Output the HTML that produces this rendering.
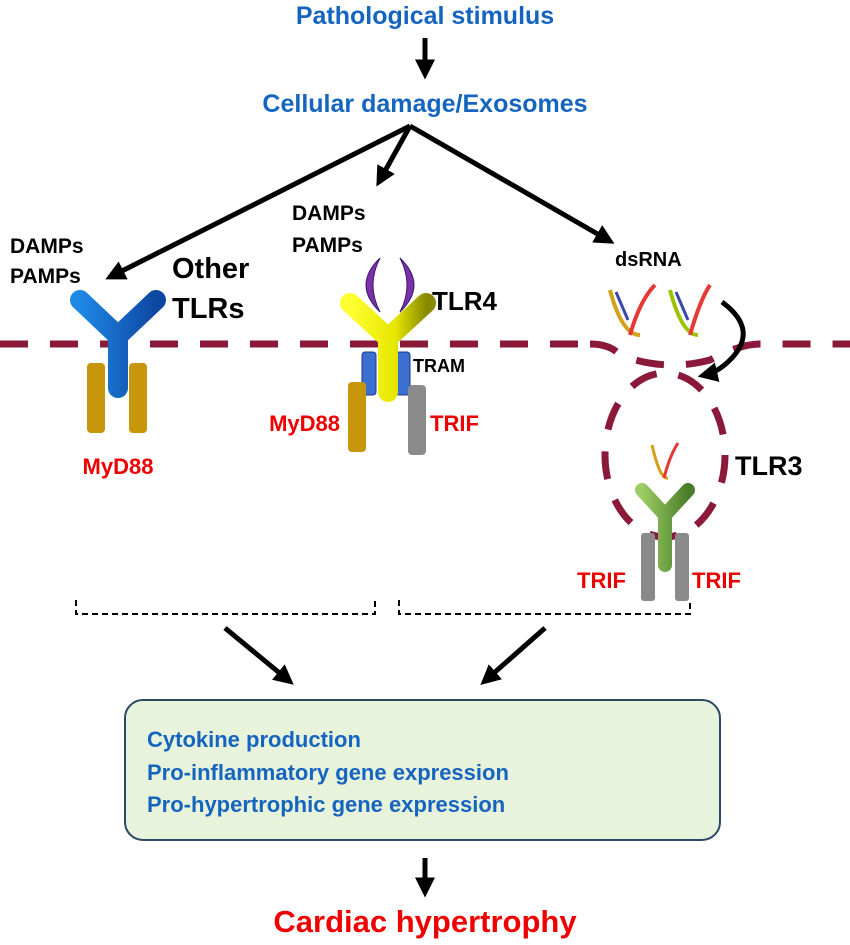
<!DOCTYPE html>
<html><head><meta charset="utf-8"><style>
body{margin:0;background:#fff}
svg text{font-family:"Liberation Sans",Arial,sans-serif;font-weight:bold}
</style></head><body>
<svg width="850" height="940" viewBox="0 0 850 940" xmlns="http://www.w3.org/2000/svg">
<defs>
<marker id="ah" markerWidth="4" markerHeight="4" refX="2.5" refY="2" orient="auto" markerUnits="strokeWidth">
<path d="M0,0 L4,2 L0,4 z" fill="#000"/></marker>
<linearGradient id="bl" x1="0" x2="1"><stop offset="0" stop-color="#1e88e5"/><stop offset="1" stop-color="#0d47a1"/></linearGradient>
<linearGradient id="ye" x1="0" x2="1"><stop offset="0" stop-color="#ffff33"/><stop offset="0.6" stop-color="#e6e600"/><stop offset="1" stop-color="#8a8a00"/></linearGradient>
<linearGradient id="gr" x1="0" x2="1"><stop offset="0" stop-color="#9ccc65"/><stop offset="1" stop-color="#4a7d2a"/></linearGradient>
</defs>
<text x="425" y="24" font-size="25" fill="#1565c0" text-anchor="middle">Pathological stimulus</text>
<line x1="425" y1="38" x2="425" y2="72" stroke="#000" stroke-width="5" marker-end="url(#ah)"/>
<text x="425" y="112" font-size="25" fill="#1565c0" text-anchor="middle">Cellular damage/Exosomes</text>
<g stroke="#000" stroke-width="5" fill="none">
<line x1="410" y1="126" x2="112" y2="276" marker-end="url(#ah)"/>
<line x1="410" y1="126" x2="380" y2="180" marker-end="url(#ah)"/>
<line x1="410" y1="126" x2="608" y2="240" marker-end="url(#ah)"/>
</g>
<!-- membrane -->
<g stroke="#8b1a3a" stroke-width="7" fill="none" stroke-dasharray="28,22">
<line x1="0" y1="344" x2="590" y2="344"/>
<path d="M590,344 Q610,344 620,355 Q665,372 710,360 Q740,344 760,344 L850,344"/>
<ellipse cx="665" cy="455" rx="60" ry="82"/>
</g>
<!-- left receptor -->
<rect x="87" y="363" width="18" height="70" rx="4" fill="#c8960a"/>
<rect x="129" y="363" width="18" height="70" rx="4" fill="#c8960a"/>
<path d="M80,300 L118,336 L156,300 M118,336 L118,388" stroke="url(#bl)" stroke-width="20" fill="none" stroke-linecap="round" stroke-linejoin="round"/>
<text x="10" y="253" font-size="21" fill="#000">DAMPs</text>
<text x="10" y="283" font-size="21" fill="#000">PAMPs</text>
<text x="172" y="278" font-size="29" fill="#000">Other</text>
<text x="172" y="318" font-size="29" fill="#000">TLRs</text>
<text x="118" y="474" font-size="22" fill="#ee0000" text-anchor="middle">MyD88</text>
<!-- TLR4 -->
<text x="292" y="220" font-size="21" fill="#000">DAMPs</text>
<text x="292" y="252" font-size="21" fill="#000">PAMPs</text>
<path d="M380,258 Q352,285 380,312 Q366,285 380,258z" fill="#7b2fa8" stroke="#3a1a70"/>
<path d="M400,258 Q428,285 400,312 Q414,285 400,258z" fill="#7b2fa8" stroke="#3a1a70"/>
<rect x="362" y="352" width="14" height="43" rx="3" fill="#3d6fd1" stroke="#1a3a8a"/>
<rect x="396" y="352" width="14" height="43" rx="3" fill="#3d6fd1" stroke="#1a3a8a"/>
<path d="M350,303 L388,338 L426,303 M388,338 L388,392" stroke="url(#ye)" stroke-width="20" fill="none" stroke-linecap="round" stroke-linejoin="round"/>
<rect x="348" y="382" width="18" height="70" rx="4" fill="#c8960a"/>
<rect x="408" y="385" width="18" height="70" rx="4" fill="#8a8a8a"/>
<text x="432" y="310" font-size="26" fill="#000">TLR4</text>
<text x="413" y="372" font-size="18" fill="#000">TRAM</text>
<text x="340" y="431" font-size="22" fill="#ee0000" text-anchor="end">MyD88</text>
<text x="430" y="431" font-size="22" fill="#ee0000">TRIF</text>
<!-- TLR3 -->
<text x="615" y="266" font-size="20" fill="#000">dsRNA</text>
<g stroke-width="4" fill="none">
<path d="M610,290 Q622,335 640,335" stroke="#d4a017"/>
<path d="M630,335 Q640,300 655,285" stroke="#e53935"/>
<path d="M616,292 L628,320" stroke="#3949ab" stroke-width="3"/>
<path d="M670,290 Q682,335 698,335" stroke="#9bc400"/>
<path d="M690,335 Q700,300 710,285" stroke="#e53935"/>
<path d="M676,292 L688,320" stroke="#3949ab" stroke-width="3"/>
<path d="M652,445 Q660,480 668,478" stroke="#d4a017" stroke-width="3"/>
<path d="M664,478 Q670,455 678,443" stroke="#e53935" stroke-width="3"/>
</g>
<path d="M722,302 Q760,330 730,360 Q718,372 705,375" stroke="#000" stroke-width="5" fill="none" marker-end="url(#ah)"/>
<rect x="641" y="533" width="14" height="68" rx="3" fill="#8a8a8a"/>
<rect x="675" y="533" width="14" height="68" rx="3" fill="#8a8a8a"/>
<path d="M642,490 L665,515 L665,565 M665,515 L688,490" stroke="url(#gr)" stroke-width="14" fill="none" stroke-linecap="round" stroke-linejoin="round"/>
<text x="735" y="475" font-size="27" fill="#000">TLR3</text>
<text x="577" y="588" font-size="22" fill="#ee0000">TRIF</text>
<text x="692" y="588" font-size="22" fill="#ee0000">TRIF</text>
<!-- brackets -->
<g stroke="#000" stroke-width="2" fill="none" stroke-dasharray="6,4">
<path d="M76,600 L76,614 L375,614 L375,600"/>
<path d="M399,600 L399,614 L690,614 L690,600"/>
</g>
<line x1="225" y1="628" x2="288" y2="680" stroke="#000" stroke-width="5" marker-end="url(#ah)"/>
<line x1="545" y1="628" x2="486" y2="680" stroke="#000" stroke-width="5" marker-end="url(#ah)"/>
<rect x="125" y="700" width="595" height="140" rx="18" fill="#e8f3dc" stroke="#2c4a66" stroke-width="2"/>
<text x="147" y="747" font-size="22" fill="#1565c0">Cytokine production</text>
<text x="147" y="780" font-size="22" fill="#1565c0">Pro-inflammatory gene expression</text>
<text x="147" y="812" font-size="22" fill="#1565c0">Pro-hypertrophic gene expression</text>
<line x1="425" y1="858" x2="425" y2="890" stroke="#000" stroke-width="5" marker-end="url(#ah)"/>
<text x="425" y="932" font-size="31" fill="#ee0000" text-anchor="middle">Cardiac hypertrophy</text>
</svg>
</body></html>
